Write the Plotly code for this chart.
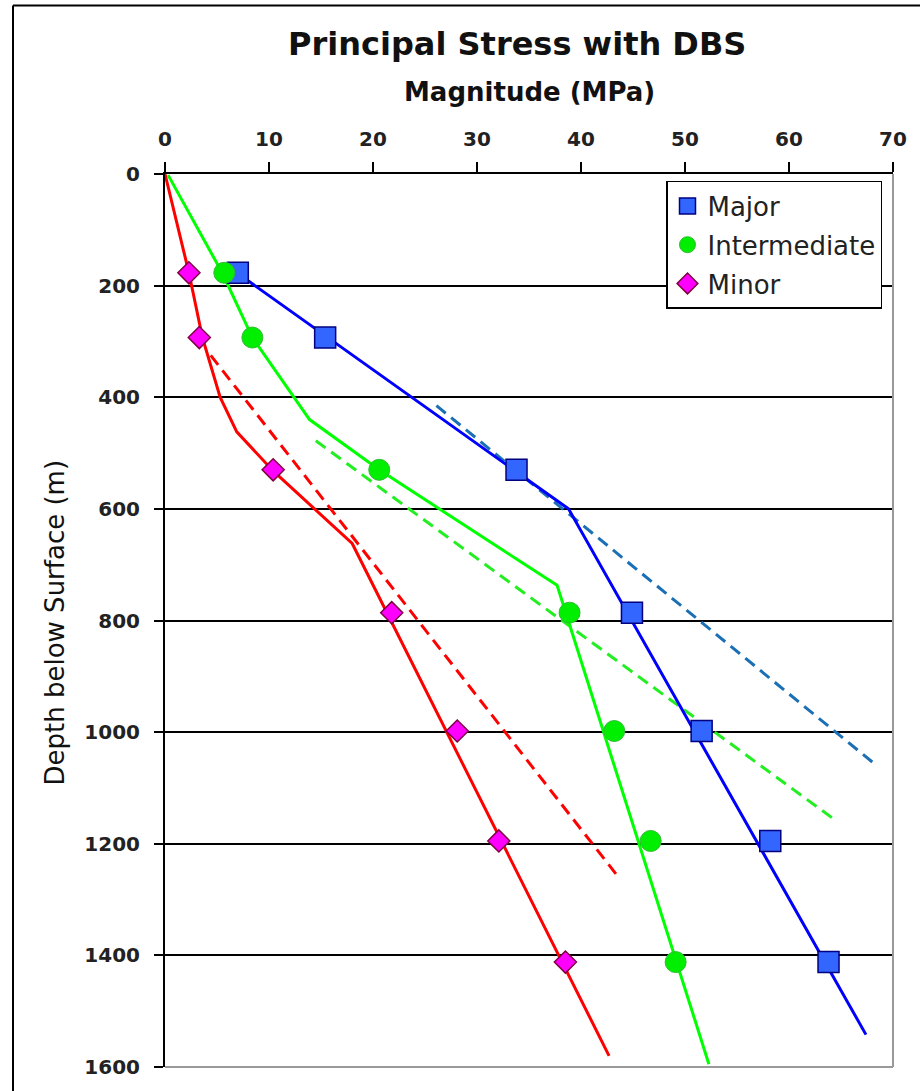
import plotly.graph_objects as go

# ---- data ----
marker_depth = [177, 293, 530, 786, 998, 1195, 1412]
major_pts = [7.0, 15.4, 33.8, 44.9, 51.6, 58.2, 63.8]
inter_pts = [5.7, 8.4, 20.6, 38.9, 43.2, 46.7, 49.1]
minor_pts = [2.3, 3.3, 10.4, 21.8, 28.1, 32.1, 38.5]

major_line_depth = [165, 600, 1542]
major_line_val = [6.0, 38.8, 67.4]
inter_line_depth = [2, 177, 293, 440, 530, 737, 1595]
inter_line_val = [0.3, 5.5, 8.4, 13.9, 20.6, 37.7, 52.3]
minor_line_depth = [0, 177, 293, 400, 462, 532, 662, 1580]
minor_line_val = [0.0, 2.3, 3.6, 5.3, 6.9, 10.4, 18.0, 42.7]

major_dash_depth = [415, 1061]
major_dash_val = [26.1, 68.5]
inter_dash_depth = [478, 1157]
inter_dash_val = [14.5, 64.4]
minor_dash_depth = [325, 1255]
minor_dash_val = [4.4, 43.4]

x_ticks = [0, 10, 20, 30, 40, 50, 60, 70]
y_ticks = [0, 200, 400, 600, 800, 1000, 1200, 1400, 1600]

FONT = "DejaVu Sans, Liberation Sans, Arial, sans-serif"

fig = go.Figure()

# dashed lines
fig.add_trace(go.Scatter(x=major_dash_val, y=major_dash_depth, mode="lines",
                         line=dict(color="#1A6FB5", width=3, dash="12px,7px"), showlegend=False))
fig.add_trace(go.Scatter(x=inter_dash_val, y=inter_dash_depth, mode="lines",
                         line=dict(color="#22EE22", width=3, dash="12px,7px"), showlegend=False))
fig.add_trace(go.Scatter(x=minor_dash_val, y=minor_dash_depth, mode="lines",
                         line=dict(color="#FF0000", width=3, dash="12px,7px"), showlegend=False))

# solid lines
fig.add_trace(go.Scatter(x=major_line_val, y=major_line_depth, mode="lines",
                         line=dict(color="#0000FF", width=3), showlegend=False))
fig.add_trace(go.Scatter(x=inter_line_val, y=inter_line_depth, mode="lines",
                         line=dict(color="#00FF00", width=3), showlegend=False))
fig.add_trace(go.Scatter(x=minor_line_val, y=minor_line_depth, mode="lines",
                         line=dict(color="#FF0000", width=3), showlegend=False))

# markers
fig.add_trace(go.Scatter(x=major_pts, y=marker_depth, mode="markers", name="Major",
                         legendgroup="a",
                         marker=dict(symbol="square", size=21, color="#3366FF",
                                     line=dict(color="#000080", width=1.5))))
fig.add_trace(go.Scatter(x=inter_pts, y=marker_depth, mode="markers", name="Intermediate",
                         legendgroup="b",
                         marker=dict(symbol="circle", size=21, color="#00EE00",
                                     line=dict(color="#33BB33", width=1))))
fig.add_trace(go.Scatter(x=minor_pts, y=marker_depth, mode="markers", name="Minor",
                         legendgroup="c",
                         marker=dict(symbol="diamond", size=17, color="#FF00FF",
                                     line=dict(color="#800040", width=1.5))))

fig.update_layout(
    width=920, height=1091,
    margin=dict(l=165, r=27, t=174, b=21),
    paper_bgcolor="white", plot_bgcolor="white",
    font=dict(family=FONT, color="black"),
    showlegend=True,
    legend=dict(x=(666 - 165) / 728, y=1 - (181 - 174) / 896, xanchor="left", yanchor="top",
                bgcolor="white", bordercolor="black", borderwidth=1.5,
                font=dict(size=26, family=FONT, color="#222222"),
                tracegroupgap=2),
    xaxis=dict(side="top", range=[0, 70], tickvals=x_ticks,
               ticktext=[str(v) for v in x_ticks],
               ticks="outside", ticklen=10, tickwidth=2, tickcolor="black",
               ticklabelstandoff=8,
               showline=True, linecolor="black", linewidth=2,
               showgrid=False, zeroline=False,
               tickfont=dict(size=20, family=FONT, weight="bold", color="#222222")),
    yaxis=dict(range=[1600, 0], tickvals=y_ticks,
               ticktext=[str(v) for v in y_ticks],
               ticks="outside", ticklen=9, tickwidth=2, tickcolor="black",
               ticklabelstandoff=10,
               showline=True, linecolor="black", linewidth=2,
               showgrid=True, gridcolor="black", gridwidth=1.5,
               zeroline=False,
               tickfont=dict(size=20, family=FONT, weight="bold", color="#222222")),
)

# plot-area right/bottom border (gray)
fig.add_shape(type="line", xref="paper", yref="paper", x0=1, x1=1, y0=0, y1=1,
              line=dict(color="#999999", width=2))
fig.add_shape(type="line", xref="paper", yref="paper", x0=0, x1=1, y0=0, y1=0,
              line=dict(color="#999999", width=2))

# outer frame (left and top)
fig.add_shape(type="line", xref="paper", yref="paper", x0=(13 - 165) / 728, x1=(13 - 165) / 728,
              y0=-0.1, y1=1 + (174 - 5) / 896, line=dict(color="black", width=2))
fig.add_shape(type="line", xref="paper", yref="paper", x0=(13 - 165) / 728, x1=1.1,
              y0=1 + (174 - 5) / 896, y1=1 + (174 - 5) / 896, line=dict(color="black", width=2))

# titles
fig.add_annotation(text="<b>Principal Stress with DBS</b>", xref="paper", yref="paper",
                   x=(517 - 165) / 728, y=1 + (174 - 44) / 896, showarrow=False,
                   xanchor="center", yanchor="middle", font=dict(size=32, family=FONT, color="#111111"))
fig.add_annotation(text="<b>Magnitude (MPa)</b>", xref="paper", yref="paper",
                   x=(529 - 165) / 728, y=1 + (174 - 92) / 896, showarrow=False,
                   xanchor="center", yanchor="middle", font=dict(size=26, family=FONT, color="#111111"))
fig.add_annotation(text="Depth below Surface (m)", xref="paper", yref="paper",
                   x=(55 - 165) / 728, y=1 - (624 - 174) / 896, showarrow=False,
                   textangle=-90, xanchor="center", yanchor="middle",
                   font=dict(size=26, family=FONT, color="#111111"))

fig.write_html("out.html", config={"displayModeBar": False},
               post_script="document.body.style.margin='0';document.body.style.overflow='hidden';")
